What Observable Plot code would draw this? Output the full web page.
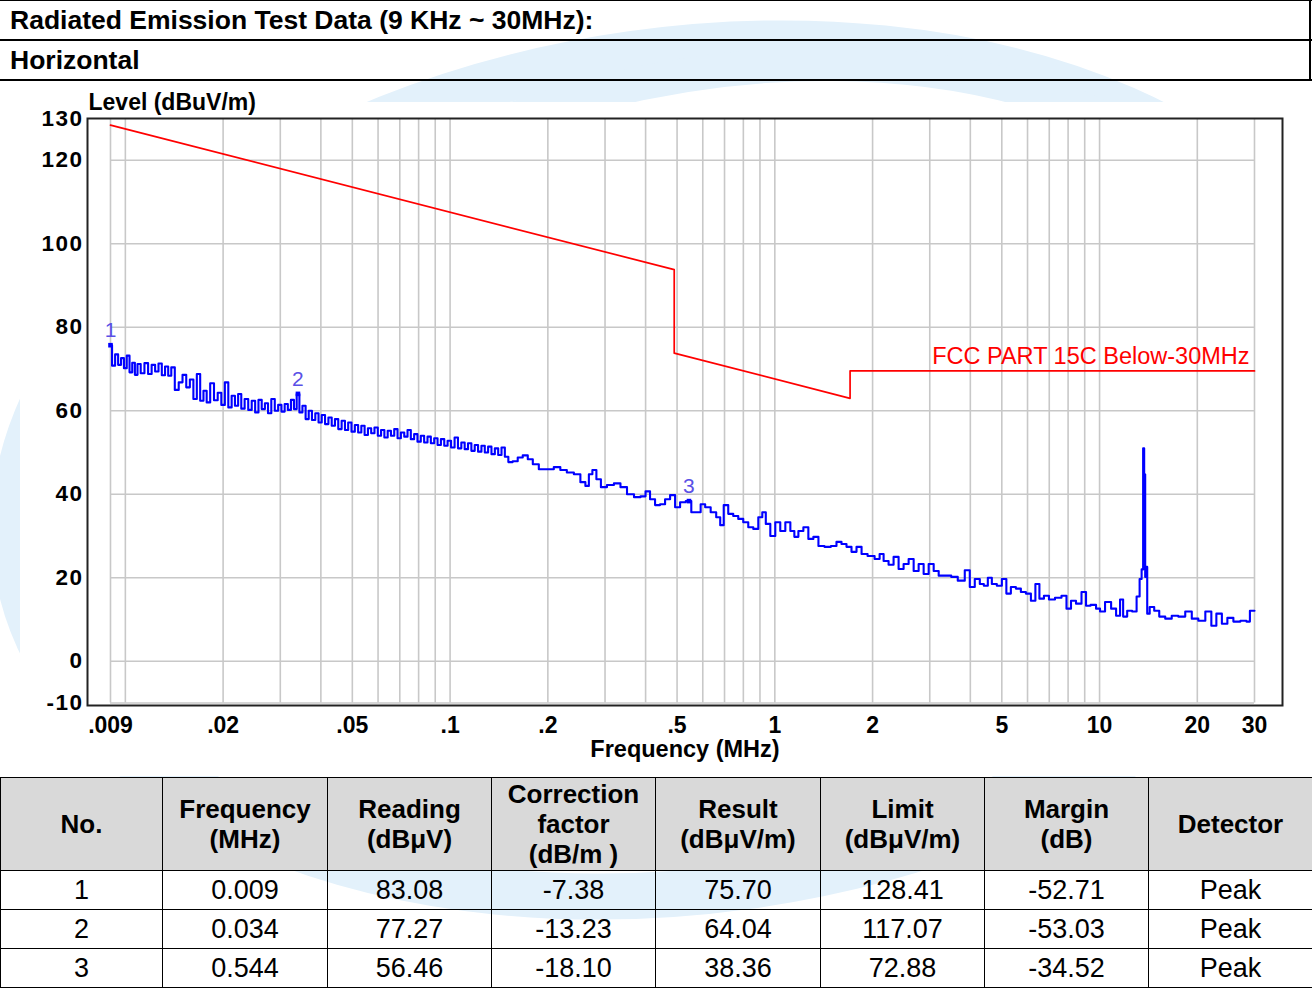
<!DOCTYPE html>
<html>
<head>
<meta charset="utf-8">
<script src="https://cdn.jsdelivr.net/npm/d3@7"></script>
<script src="https://cdn.jsdelivr.net/npm/@observablehq/plot@0.6"></script>
<style>
  body { margin: 0; background: #fff; font-family: "Liberation Sans", Arial, sans-serif; }
  #page { position: relative; width: 1312px; height: 989px; overflow: hidden; background: #fff; }
  #wm { position: absolute; left: 0; top: 0; }
  .hline { position: absolute; left: 0; width: 1312px; background: #000; }
  .htext { position: absolute; left: 10px; height: 40px; line-height: 40px; font-weight: bold; font-size: 26.5px; color: #000; }
  #chart { position: absolute; left: 0; top: 80px; }
  #tbl { position: absolute; left: 0; top: 777px; border-collapse: collapse; table-layout: fixed; width: 1312px; }
  #tbl th, #tbl td { border: 1.5px solid #000; text-align: center; padding: 0; color: #000; }
  #tbl th { background: #d9d9d9; font-weight: bold; font-size: 26px; line-height: 30px; height: 92px; }
  #tbl td { font-size: 27px; height: 38px; line-height: 38px; background: transparent; }
  #chart g[aria-label="y-axis tick label"] text { letter-spacing: 1.5px; }
</style>
</head>
<body>
<div id="page">
  <svg id="wm" width="1312" height="989">
    <g fill="none" stroke="#e3f1fb">
      <ellipse cx="690" cy="470" rx="680" ry="420" stroke-width="46" transform="rotate(-8 690 470)"></ellipse>
      <ellipse cx="700" cy="480" rx="620" ry="400" stroke-width="34" transform="rotate(-14 700 480)"></ellipse>
    </g>
    <rect x="20" y="102" width="1292" height="674" fill="#ffffff"></rect>
  </svg>
  <div class="hline" style="top:0;height:1px"></div>
  <div class="htext" id="title" style="top:0"></div>
  <div class="hline" style="top:39px;height:2px"></div>
  <div class="htext" id="subtitle" style="top:40px"></div>
  <div class="hline" style="top:79px;height:2px"></div>
  <div style="position:absolute;left:1309px;top:0;width:2px;height:80px;background:#000"></div>
  <div id="chart"></div>
  <table id="tbl"></table>
</div>
<script>
// ---- texts ----
const titleText = "Radiated Emission Test Data (9 KHz ~ 30MHz):";
const subtitleText = "Horizontal";
const yAxisTitle = "Level (dBuV/m)";
const xAxisTitle = "Frequency (MHz)";
const limitName = "FCC PART 15C Below-30MHz";

// ---- axes ----
const xTickValues = [0.009, 0.02, 0.05, 0.1, 0.2, 0.5, 1, 2, 5, 10, 20, 30];
const xTickLabels = [".009", ".02", ".05", ".1", ".2", ".5", "1", "2", "5", "10", "20", "30"];
const xGridValues = [0.009, 0.01, 0.02, 0.03, 0.04, 0.05, 0.06, 0.07, 0.08, 0.09,
  0.1, 0.2, 0.3, 0.4, 0.5, 0.6, 0.7, 0.8, 0.9,
  1, 2, 3, 4, 5, 6, 7, 8, 9, 10, 20, 30];
const yTickValues = [130, 120, 100, 80, 60, 40, 20, 0, -10];
const yGridValues = [120, 100, 80, 60, 40, 20, 0, -10];

// ---- limit line (FCC Part 15C, dBuV/m) ----
const limitFreq = [0.009, 0.49, 0.49, 1.705, 1.705, 30];
const limitLevel = [128.41, 93.8, 73.8, 62.97, 69.54, 69.54];

// ---- measured scan: [frequency MHz, level dBuV/m] ----
const scan = [
[0.0090,75.7],[0.0092,70.8],[0.0094,73.5],[0.0096,71.0],[0.0098,72.6],[0.0100,70.2],[0.0102,73.2],[0.0104,69.2],[0.0106,71.5],[0.0108,68.6],
[0.0110,71.2],[0.0113,69.0],[0.0116,71.4],[0.0119,68.8],[0.0122,71.0],[0.0125,69.4],[0.0128,71.3],[0.0131,68.5],[0.0134,70.6],[0.0137,68.4],
[0.0140,70.4],[0.0144,65.0],[0.0148,66.8],[0.0152,68.6],[0.0156,65.6],[0.0160,67.5],[0.0164,62.8],[0.0168,68.8],[0.0172,62.4],[0.0176,64.8],
[0.0180,62.0],[0.0185,66.6],[0.0190,62.5],[0.0195,64.3],[0.0200,61.4],[0.0205,66.8],[0.0210,60.8],[0.0215,63.6],[0.0220,61.2],[0.0225,64.0],
[0.0230,60.5],[0.0236,62.8],[0.0242,60.2],[0.0248,62.4],[0.0254,59.6],[0.0260,62.6],[0.0266,60.4],[0.0272,61.8],[0.0278,59.4],[0.0285,62.8],
[0.0292,60.0],[0.0299,61.4],[0.0306,59.8],[0.0313,61.6],[0.0320,60.2],[0.0327,62.6],[0.0334,60.4],[0.0340,64.0],[0.0347,59.6],[0.0355,61.2],
[0.0363,58.0],[0.0371,60.0],[0.0380,57.8],[0.0389,59.4],[0.0398,57.2],[0.0407,59.0],[0.0417,56.8],[0.0427,58.4],[0.0437,56.4],[0.0447,58.0],
[0.0458,55.6],[0.0469,57.6],[0.0480,55.4],[0.0491,57.2],[0.0503,55.0],[0.0515,56.6],[0.0527,54.8],[0.0539,56.4],[0.0552,54.2],[0.0565,55.8],
[0.0578,54.6],[0.0592,56.0],[0.0606,54.0],[0.0620,55.4],[0.0635,53.6],[0.0650,55.2],[0.0665,54.0],[0.0681,55.6],[0.0697,53.4],[0.0714,54.8],
[0.0731,53.8],[0.0748,55.4],[0.0766,53.2],[0.0784,54.4],[0.0803,52.6],[0.0822,54.0],[0.0842,52.4],[0.0862,53.8],[0.0883,52.2],[0.0904,53.4],
[0.0926,51.8],[0.0948,53.2],[0.0971,51.6],[0.0994,52.8],[0.1020,51.2],[0.1045,53.6],[0.1070,51.0],[0.1096,52.4],[0.1122,50.8],[0.1149,52.2],
[0.1177,50.4],[0.1205,51.8],[0.1234,50.2],[0.1264,51.6],[0.1294,50.0],[0.1325,51.4],[0.1357,49.6],[0.1390,51.0],[0.1423,49.4],[0.1457,51.2],
[0.1492,49.0],[0.1531,47.7],[0.1587,47.9],[0.1644,48.8],[0.1704,49.3],[0.1766,48.4],[0.1830,47.2],[0.1923,46.0],[0.2035,46.0],[0.2139,46.5],
[0.2232,45.8],[0.2346,45.2],[0.2466,44.8],[0.2573,42.9],[0.2647,42.0],[0.2704,44.8],[0.2782,45.8],[0.2862,43.6],[0.2966,41.7],[0.3117,42.2],
[0.3276,42.6],[0.3420,41.7],[0.3594,40.0],[0.3777,39.3],[0.3942,39.5],[0.4055,40.7],[0.4202,38.8],[0.4354,37.4],[0.4511,37.6],[0.4675,38.8],
[0.4844,39.8],[0.5018,36.9],[0.5200,38.1],[0.5440,38.4],[0.5623,35.7],[0.5826,35.7],[0.5995,37.6],[0.6211,36.9],[0.6482,35.7],[0.6717,34.5],
[0.6862,32.6],[0.7060,37.4],[0.7315,35.3],[0.7579,34.8],[0.7854,34.1],[0.8137,33.3],[0.8432,32.1],[0.8737,31.7],[0.9053,34.5],[0.9247,35.7],
[0.9515,32.9],[0.9858,30.0],[1.021,33.3],[1.058,31.2],[1.097,33.3],[1.136,31.2],[1.161,29.8],[1.203,31.2],[1.246,32.1],[1.291,29.3],
[1.338,29.8],[1.387,27.6],[1.457,27.4],[1.521,27.6],[1.576,28.6],[1.633,28.1],[1.692,27.4],[1.753,26.2],[1.817,27.4],[1.883,25.7],
[1.979,25.2],[2.080,24.5],[2.125,25.7],[2.201,24.0],[2.280,23.1],[2.363,25.0],[2.448,22.1],[2.537,23.3],[2.629,24.5],[2.724,21.6],
[2.822,23.3],[2.924,20.9],[3.030,23.3],[3.140,21.6],[3.253,20.5],[3.420,20.5],[3.569,20.2],[3.751,19.3],[3.942,21.8],[4.027,17.8],
[4.232,19.7],[4.324,18.5],[4.480,18.1],[4.577,20.0],[4.742,18.5],[4.913,18.1],[5.091,19.7],[5.238,16.2],[5.427,17.8],[5.623,17.4],
[5.826,16.6],[6.037,16.2],[6.255,14.5],[6.435,18.5],[6.622,15.0],[6.862,15.7],[7.111,14.8],[7.473,15.2],[7.798,15.7],[8.023,12.6],
[8.313,14.5],[8.613,13.8],[8.988,16.6],[9.183,13.3],[9.583,13.5],[9.929,12.6],[10.14,11.9],[10.66,14.2],[11.05,12.6],[11.44,10.9],
[11.69,14.8],[11.95,10.7],[12.38,12.1],[12.82,11.9],[13.19,15.5],[13.38,19.7],[13.57,22.0],[13.67,51.0],[13.77,44.8],[13.87,20.2],
[13.97,22.6],[14.07,11.4],[14.47,13.0],[15.00,12.1],[15.54,10.7],[16.33,10.2],[17.04,10.9],[17.91,10.7],[18.82,11.9],[19.65,10.2],
[20.65,9.7],[21.70,11.9],[22.49,8.5],[23.30,11.4],[24.32,9.0],[25.19,10.4],[26.48,9.5],[27.83,9.7],[28.84,9.5],[29.24,12.1],
[30.0,12.1]
];

// ---- marked emissions / table ----
const markNo = [1, 2, 3];
const markFreq = [0.009, 0.034, 0.544];
const markReading = [83.08, 77.27, 56.46];
const markCorrection = [-7.38, -13.23, -18.10];
const markResult = [75.70, 64.04, 38.36];
const markLimit = [128.41, 117.07, 72.88];
const markMargin = [-52.71, -53.03, -34.52];
const markDetector = ["Peak", "Peak", "Peak"];
const tableHeaders = ["No.", "Frequency<br>(MHz)", "Reading<br>(dBμV)", "Correction<br>factor<br>(dB/m )",
  "Result<br>(dBμV/m)", "Limit<br>(dBμV/m)", "Margin<br>(dB)", "Detector"];
const colWidths = [162, 165, 164, 164, 165, 164, 164, 164];

// ---- header ----
document.getElementById("title").textContent = titleText;
document.getElementById("subtitle").textContent = subtitleText;

// ---- chart ----
const limitData = limitFreq.map((f, i) => ({f, level: limitLevel[i]}));
const scanData = scan.map(([f, level]) => ({f, level}));
const marks = markNo.map((n, i) => ({no: String(n), f: markFreq[i], level: markResult[i]}));
const xTicks = xTickValues.map((v, i) => ({v, label: xTickLabels[i]}));
const FONT = "'Liberation Sans', Arial, sans-serif";

const chart = Plot.plot({
  width: 1312,
  height: 697,
  marginTop: 38,
  marginLeft: 87,
  marginRight: 30,
  marginBottom: 72,
  x: {type: "log", domain: [0.009, 30], insetLeft: 23, insetRight: 28, axis: null},
  y: {domain: [-10, 130], insetBottom: 2.5},
  style: {fontFamily: FONT, background: "transparent", color: "#000", overflow: "visible"},
  marks: [
    Plot.frame({fill: "#ffffff", stroke: null}),
    Plot.ruleX(xGridValues, {x: d => d, y1: 130, y2: -10, stroke: "#c8c8c8", strokeWidth: 1.6}),
    Plot.ruleY(yGridValues, {y: d => d, x1: 0.009, x2: 30, stroke: "#c8c8c8", strokeWidth: 1.6}),
    Plot.line(limitData, {x: "f", y: "level", stroke: "#ff0000", strokeWidth: 1.7}),
    Plot.line(scanData, {x: "f", y: "level", stroke: "#0000ff", strokeWidth: 2.1, curve: "step"}),
    Plot.dot(marks, {x: "f", y: "level", symbol: "square", r: 2.6, fill: "#0000ff", stroke: null}),
    Plot.text(marks, {x: "f", y: "level", text: "no", dy: -15, fill: "#5a50e6", fontSize: 21}),
    Plot.text([limitName], {x: 30, y: 69.54, text: d => d, textAnchor: "end", dx: -5, dy: -14, fill: "#ff0000", fontSize: 23.5}),
    Plot.frame({stroke: "#222", strokeWidth: 2}),
    Plot.text(xTicks, {x: "v", text: "label", frameAnchor: "bottom", lineAnchor: "middle", dy: 20, fontSize: 23, fontWeight: "bold"}),
    Plot.axisY(yTickValues, {tickSize: 0, tickPadding: 4, fontSize: 22.5, fontWeight: "bold", label: null, tickFormat: d => String(d)}),
    Plot.text([yAxisTitle], {frameAnchor: "top-left", text: d => d, textAnchor: "start", lineAnchor: "middle", dx: 1, dy: -16, fontSize: 23, fontWeight: "bold"}),
    Plot.text([xAxisTitle], {frameAnchor: "bottom", text: d => d, lineAnchor: "middle", dy: 44, fontSize: 23.5, fontWeight: "bold"})
  ]
});
document.getElementById("chart").appendChild(chart);

// ---- table ----
const tbl = document.getElementById("tbl");
let html = "<colgroup>" + colWidths.map(w => `<col style="width:${w}px">`).join("") + "</colgroup>";
html += "<tr>" + tableHeaders.map(h => `<th>${h}</th>`).join("") + "</tr>";
markNo.forEach((n, i) => {
  const cells = [n, markFreq[i].toFixed(3), markReading[i].toFixed(2), markCorrection[i].toFixed(2),
    markResult[i].toFixed(2), markLimit[i].toFixed(2), markMargin[i].toFixed(2), markDetector[i]];
  html += "<tr>" + cells.map(c => `<td>${c}</td>`).join("") + "</tr>";
});
tbl.innerHTML = html;
</script>
</body>
</html>
